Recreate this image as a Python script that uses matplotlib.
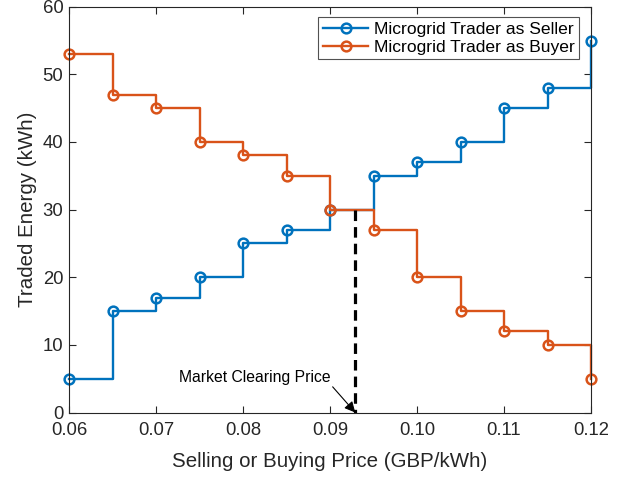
import matplotlib
import matplotlib.pyplot as plt

matplotlib.use("Agg")

plt.rcParams["font.family"] = ["Liberation Sans", "DejaVu Sans"]

# Offer prices (GBP/kWh) and traded energy (kWh)
prices = [0.06, 0.065, 0.07, 0.075, 0.08, 0.085, 0.09, 0.095, 0.10, 0.105, 0.11, 0.115, 0.12]
seller_energy = [5, 15, 17, 20, 25, 27, 30, 35, 37, 40, 45, 48, 55]
buyer_energy = [53, 47, 45, 40, 38, 35, 30, 27, 20, 15, 12, 10, 5]

clearing_price = 0.0929
clearing_energy = 30

xticks = [0.06, 0.07, 0.08, 0.09, 0.10, 0.11, 0.12]
xtick_labels = ["0.06", "0.07", "0.08", "0.09", "0.10", "0.11", "0.12"]
yticks = [0, 10, 20, 30, 40, 50, 60]

blue = "#0072BD"
orange = "#D95319"
axis_gray = "#262626"

fig = plt.figure(figsize=(6.29, 4.78), dpi=100)
ax = fig.add_axes([0.1097, 0.137, 0.830, 0.849])

style = dict(drawstyle="steps-post", lw=1.7, marker="o", markersize=7,
             markerfacecolor="none", markeredgewidth=1.8, clip_on=False)
ax.plot(prices, seller_energy, color=blue, label="Microgrid Trader as Seller", **style)
ax.plot(prices, buyer_energy, color=orange, label="Microgrid Trader as Buyer", **style)

ax.plot([clearing_price, clearing_price], [clearing_energy, 0], color="black",
        lw=2.3, ls=(0, (3.3, 1.9)))
ax.text(0.0814, 5.25, "Market Clearing Price", fontsize=11.3, ha="center",
        va="center", color="black")
ax.annotate("", xy=(clearing_price, 0), xytext=(0.0903, 3.8),
            arrowprops=dict(arrowstyle="-|>", color="black", lw=0.8,
                            mutation_scale=16, shrinkA=0, shrinkB=0))

ax.set_xlim(0.06, 0.12)
ax.set_ylim(0, 60)
ax.set_xticks(xticks)
ax.set_xticklabels(xtick_labels)
ax.set_yticks(yticks)
ax.tick_params(direction="in", top=True, right=True, labelsize=13.3,
               colors=axis_gray, length=5, width=0.8)
ax.tick_params(axis="x", pad=7)
ax.tick_params(axis="y", pad=4)
for spine in ax.spines.values():
    spine.set_color(axis_gray)
    spine.set_linewidth(0.8)

ax.set_xlabel("Selling or Buying Price (GBP/kWh)", fontsize=14.8, color=axis_gray,
              labelpad=9)
ax.set_ylabel("Traded Energy (kWh)", fontsize=14.8, color=axis_gray)

leg = ax.legend(loc="upper right", fontsize=12.6, frameon=True, fancybox=False,
                edgecolor=axis_gray, borderpad=0.25, handlelength=2.6,
                handletextpad=0.3, labelspacing=0.15,
                bbox_to_anchor=(0.9765, 0.9736), borderaxespad=0)
leg.get_frame().set_linewidth(0.8)

fig.savefig("out.png", dpi=100)
